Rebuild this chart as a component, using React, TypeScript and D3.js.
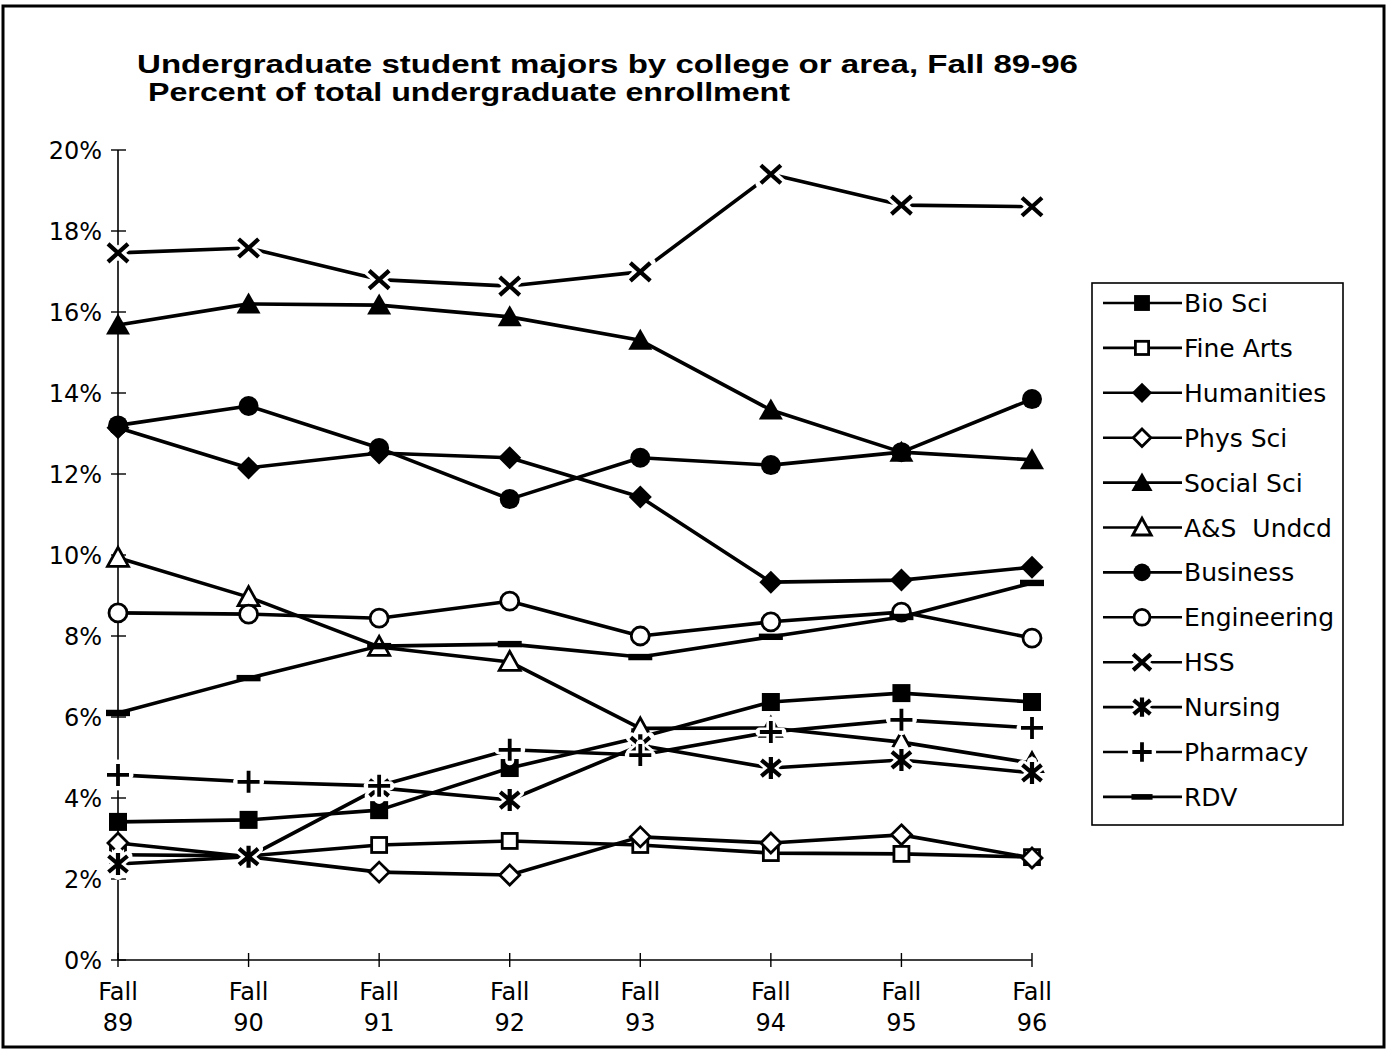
import React from "react";
import * as d3 from "d3";

const W = 1390;
const H = 1053;

const years = ["89", "90", "91", "92", "93", "94", "95", "96"];
const yTicks = [0, 2, 4, 6, 8, 10, 12, 14, 16, 18, 20];

const bioSci = [3.41, 3.46, 3.7, 4.74, 5.5, 6.37, 6.59, 6.37];
const fineArts = [2.6, 2.57, 2.84, 2.94, 2.84, 2.64, 2.62, 2.54];
const humanities = [13.14, 12.15, 12.52, 12.4, 11.43, 9.33, 9.38, 9.7];
const physSci = [2.89, 2.55, 2.17, 2.1, 3.04, 2.89, 3.09, 2.52];
const socialSci = [15.68, 16.2, 16.17, 15.88, 15.3, 13.58, 12.54, 12.35];
const asUndcd = [9.93, 8.96, 7.73, 7.36, 5.72, 5.73, 5.38, 4.86];
const business = [13.2, 13.68, 12.64, 11.38, 12.4, 12.22, 12.54, 13.85];
const engineering = [8.57, 8.54, 8.44, 8.86, 8.0, 8.35, 8.59, 7.95];
const hss = [17.46, 17.58, 16.8, 16.64, 16.99, 19.4, 18.64, 18.6];
const nursing = [2.37, 2.55, 4.25, 3.95, 5.3, 4.74, 4.94, 4.62];
const pharmacy = [4.57, 4.4, 4.3, 5.19, 5.06, 5.63, 5.93, 5.73];
const rdv = [6.1, 6.96, 7.75, 7.8, 7.48, 7.98, 8.47, 9.31];

type MarkerKind =
  | "sqFill" | "sqOpen" | "diaFill" | "diaOpen" | "triFill" | "triOpen"
  | "cirFill" | "cirOpen" | "x" | "star" | "plus" | "dash";

const series: { name: string; values: number[]; marker: MarkerKind }[] = [
  { name: "Bio Sci", values: bioSci, marker: "sqFill" },
  { name: "Fine Arts", values: fineArts, marker: "sqOpen" },
  { name: "Humanities", values: humanities, marker: "diaFill" },
  { name: "Phys Sci", values: physSci, marker: "diaOpen" },
  { name: "Social Sci", values: socialSci, marker: "triFill" },
  { name: "A&S\u00a0\u00a0Undcd", values: asUndcd, marker: "triOpen" },
  { name: "Business", values: business, marker: "cirFill" },
  { name: "Engineering", values: engineering, marker: "cirOpen" },
  { name: "HSS", values: hss, marker: "x" },
  { name: "Nursing", values: nursing, marker: "star" },
  { name: "Pharmacy", values: pharmacy, marker: "plus" },
  { name: "RDV", values: rdv, marker: "dash" },
];

const FONT = "'DejaVu Sans', sans-serif";
const TITLE_FONT = "'Liberation Sans', Arial, sans-serif";

function Marker({ kind, cx, cy, s = 1 }: { kind: MarkerKind; cx: number; cy: number; s?: number }) {
  const k = (v: number) => v * s;
  switch (kind) {
    case "sqFill":
      return <rect x={cx - k(9)} y={cy - k(9)} width={k(18)} height={k(18)} fill="#000" />;
    case "sqOpen":
      return <rect x={cx - k(7.5)} y={cy - k(7.5)} width={k(15)} height={k(15)} fill="#fff" stroke="#000" strokeWidth={2.8} />;
    case "diaFill":
      return <polygon points={`${cx},${cy - k(11.5)} ${cx + k(11.5)},${cy} ${cx},${cy + k(11.5)} ${cx - k(11.5)},${cy}`} fill="#000" />;
    case "diaOpen":
      return <polygon points={`${cx},${cy - k(10)} ${cx + k(10)},${cy} ${cx},${cy + k(10)} ${cx - k(10)},${cy}`} fill="#fff" stroke="#000" strokeWidth={2.8} />;
    case "triFill":
      return <polygon points={`${cx},${cy - k(11.5)} ${cx + k(12)},${cy + k(9.5)} ${cx - k(12)},${cy + k(9.5)}`} fill="#000" />;
    case "triOpen":
      return <polygon points={`${cx},${cy - k(10.5)} ${cx + k(10.5)},${cy + k(8.5)} ${cx - k(10.5)},${cy + k(8.5)}`} fill="#fff" stroke="#000" strokeWidth={2.8} />;
    case "cirFill":
      return <circle cx={cx} cy={cy} r={k(10)} fill="#000" />;
    case "cirOpen":
      return <circle cx={cx} cy={cy} r={k(9)} fill="#fff" stroke="#000" strokeWidth={2.8} />;
    case "x": {
      const d = `M${cx - k(10)},${cy - k(9)}L${cx + k(10)},${cy + k(9)}M${cx + k(10)},${cy - k(9)}L${cx - k(10)},${cy + k(9)}`;
      return (
        <g>
          <path d={d} stroke="#fff" strokeWidth={11} strokeLinecap="round" />
          <path d={d} stroke="#000" strokeWidth={4.2} />
        </g>
      );
    }
    case "star": {
      const d = `M${cx - k(9.5)},${cy - k(8)}L${cx + k(9.5)},${cy + k(8)}M${cx + k(9.5)},${cy - k(8)}L${cx - k(9.5)},${cy + k(8)}M${cx},${cy - k(11)}L${cx},${cy + k(11)}`;
      return (
        <g>
          <path d={d} stroke="#fff" strokeWidth={10} strokeLinecap="round" />
          <path d={d} stroke="#000" strokeWidth={4.2} />
        </g>
      );
    }
    case "plus": {
      const d = `M${cx - k(11)},${cy}L${cx + k(11)},${cy}M${cx},${cy - k(11)}L${cx},${cy + k(11)}`;
      return (
        <g>
          <path d={d} stroke="#fff" strokeWidth={9} strokeLinecap="round" />
          <path d={d} stroke="#000" strokeWidth={3.8} />
        </g>
      );
    }
    case "dash":
      return <rect x={cx - k(12)} y={cy - k(3.2)} width={k(24)} height={k(6.4)} fill="#000" />;
  }
}

export default function App() {
  const x = d3.scalePoint<string>().domain(years).range([118, 1032]);
  const y = d3.scaleLinear().domain([0, 20]).range([960, 150]);
  const line = d3
    .line<number>()
    .x((_, i) => x(years[i]) as number)
    .y((d) => y(d));

  const legendX = 1092, legendY = 283, legendW = 251, legendH = 542;
  const legendStep = 44.9;

  return (
    <svg
      width={W}
      height={H}
      style={{ position: "absolute", left: 0, top: 0, background: "#fff" }}
      fontFamily={FONT}
    >
      <rect x={0} y={0} width={W} height={H} fill="#fff" />
      {/* outer frame */}
      <rect x={3} y={6} width={1381} height={1041} fill="none" stroke="#000" strokeWidth={3} />

      {/* title */}
      <text x={137} y={73} fontFamily={TITLE_FONT} fontWeight={700} fontSize={26}
        textLength={941} lengthAdjust="spacingAndGlyphs">
        Undergraduate student majors by college or area, Fall 89-96
      </text>
      <text x={148} y={101} fontFamily={TITLE_FONT} fontWeight={700} fontSize={26}
        textLength={642} lengthAdjust="spacingAndGlyphs">
        Percent of total undergraduate enrollment
      </text>

      {/* axes */}
      <line x1={118} x2={118} y1={y(20)} y2={y(0)} stroke="#000" strokeWidth={1.6} />
      <line x1={118} x2={x("96")} y1={y(0)} y2={y(0)} stroke="#000" strokeWidth={1.6} />
      {yTicks.map((t) => (
        <g key={t}>
          <line x1={111} x2={126} y1={y(t)} y2={y(t)} stroke="#000" strokeWidth={1.4} />
          <text x={102} y={y(t)} dy="0.36em" textAnchor="end" fontSize={24}>
            {t}%
          </text>
        </g>
      ))}
      {years.map((yr) => (
        <g key={yr}>
          <line x1={x(yr)} x2={x(yr)} y1={953} y2={967} stroke="#000" strokeWidth={1.4} />
          <text x={x(yr)} y={1000} textAnchor="middle" fontSize={24}>Fall</text>
          <text x={x(yr)} y={1031} textAnchor="middle" fontSize={24}>{yr}</text>
        </g>
      ))}

      {/* series */}
      {series.map((s) => (
        <g key={s.name}>
          <path d={line(s.values) ?? ""} fill="none" stroke="#000" strokeWidth={3.6} strokeLinejoin="round" />
          {s.values.map((v, i) => (
            <Marker key={i} kind={s.marker} cx={x(years[i]) as number} cy={y(v)} />
          ))}
        </g>
      ))}

      {/* legend */}
      <rect x={legendX} y={legendY} width={legendW} height={legendH} fill="#fff" stroke="#000" strokeWidth={1.6} />
      {series.map((s, i) => {
        const cy = legendY + 20 + i * legendStep;
        return (
          <g key={s.name}>
            <line x1={1103} x2={1182} y1={cy} y2={cy} stroke="#000" strokeWidth={2.6} />
            <Marker kind={s.marker} cx={1142} cy={cy} s={0.88} />
            <text x={1184} y={cy} dy="0.36em" fontSize={25}>{s.name}</text>
          </g>
        );
      })}
    </svg>
  );
}
